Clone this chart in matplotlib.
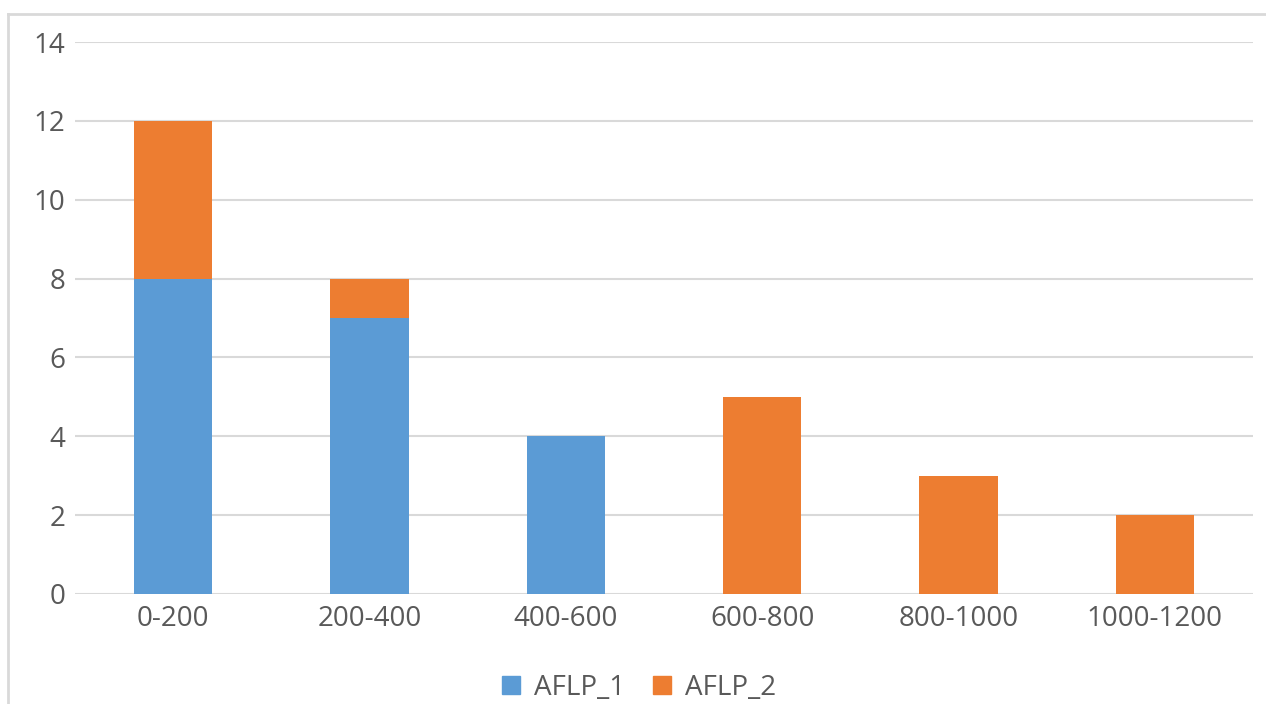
import matplotlib
matplotlib.use("Agg")
import matplotlib.pyplot as plt
from matplotlib.lines import Line2D
from matplotlib.patches import Patch

categories = ["0-200", "200-400", "400-600", "600-800", "800-1000", "1000-1200"]
aflp_1 = [8, 7, 4, 0, 0, 0]
aflp_2 = [4, 1, 0, 5, 3, 2]

blue = "#5b9bd5"
orange = "#ed7d31"
text_col = "#595959"
grid_col = "#d9d9d9"

plt.rcParams['font.family'] = ['Open Sans', 'DejaVu Sans']

fig = plt.figure(figsize=(12.66, 7.04), dpi=100)
ax = fig.add_axes([0.0592, 0.1563, 0.9305, 0.784])

x = range(len(categories))
ax.bar(x, aflp_1, width=0.4, color=blue, label="AFLP_1", zorder=3)
ax.bar(x, aflp_2, width=0.4, bottom=aflp_1, color=orange, label="AFLP_2", zorder=3)

ax.set_xlim(-0.5, len(categories) - 0.5)
ax.set_ylim(0, 14)
ax.set_yticks(range(0, 15, 2))
ax.set_xticks(list(x))
ax.set_xticklabels(categories)
ax.tick_params(axis='both', length=0, labelsize=20, colors=text_col)
ax.tick_params(axis='y', pad=7)
ax.tick_params(axis='x', pad=8)
ax.grid(axis='y', color=grid_col, linewidth=1.5, zorder=0)
for s in ax.spines.values():
    s.set_visible(False)

handles = [Patch(color=blue, label="AFLP_1"), Patch(color=orange, label="AFLP_2")]
leg = fig.legend(handles=handles, loc='center', bbox_to_anchor=(0.505, 0.023), ncol=2,
                 frameon=False, fontsize=20, handlelength=0.65, handleheight=0.65,
                 handletextpad=0.5, columnspacing=1.0)
for t in leg.get_texts():
    t.set_color(text_col)

# chart frame (only left and top edges visible)
fig.add_artist(Line2D([8 / 1266, 8 / 1266], [0, 1 - 14 / 704], transform=fig.transFigure,
                      color=grid_col, linewidth=2))
fig.add_artist(Line2D([8 / 1266, 1], [1 - 14 / 704, 1 - 14 / 704], transform=fig.transFigure,
                      color=grid_col, linewidth=2))

fig.savefig("out.png", dpi=100)
